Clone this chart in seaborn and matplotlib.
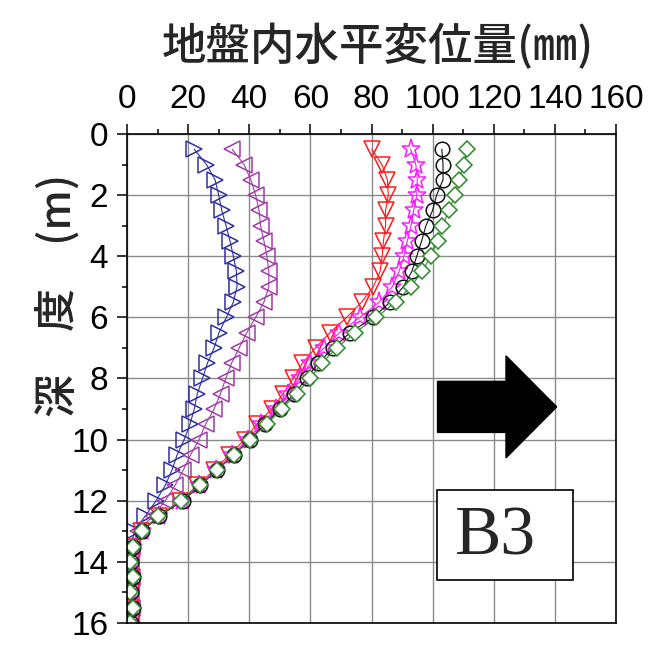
import numpy as np
import pandas as pd
import matplotlib
matplotlib.use("Agg")
import matplotlib.pyplot as plt
import matplotlib.patches as mpatches
from matplotlib.ticker import MultipleLocator
import seaborn as sns

# depth of each reading (m)
depth = [0.5, 1.0, 1.5, 2.0, 2.5, 3.0, 3.5, 4.0, 4.5, 5.0, 5.5, 6.0,
         6.5, 7.0, 7.5, 8.0, 8.5, 9.0, 9.5, 10.0, 10.5, 11.0, 11.5, 12.0,
         12.5, 13.0, 13.5, 14.0, 14.5, 15.0, 15.5, 16.0]

# horizontal displacement (mm), one list per survey
disp_blue = [22.0, 26.0, 28.8, 30.0, 31.0, 32.4, 33.7, 34.8, 35.8, 36.0, 34.8, 32.5,
             30.1, 28.5, 26.3, 24.7, 23.0, 22.0, 20.6, 18.7, 16.4, 14.7, 12.5, 9.5,
             6.0, 2.3, 1.5, 1.0, 1.6, 1.0, 1.6, 1.0]
disp_purple = [34.4, 38.3, 40.5, 42.1, 43.2, 43.7, 44.8, 45.8, 46.4, 46.4, 44.8, 42.1,
               39.2, 36.7, 34.2, 32.3, 30.6, 28.5, 25.7, 23.6, 20.8, 18.4, 15.7, 12.5,
               8.5, 3.5, 1.5, 1.2, 1.7, 1.2, 1.7, 1.2]
disp_red = [80.1, 83.4, 85.2, 85.5, 84.6, 84.6, 83.9, 83.5, 82.8, 80.6, 76.8, 71.9,
            66.4, 61.7, 57.4, 54.4, 51.1, 47.3, 42.4, 38.5, 33.5, 28.5, 23.0, 17.5,
            10.5, 4.5, 2.0, 1.5, 1.2, 1.5, 1.2, 1.5]
disp_star = [92.8, 94.5, 95.0, 94.8, 93.8, 92.9, 91.7, 90.6, 89.0, 86.8, 82.5, 76.2,
             69.5, 64.5, 60.0, 56.5, 52.8, 48.8, 44.0, 39.5, 34.5, 29.0, 23.5, 18.0,
             10.5, 4.8, 2.0, 1.3, 1.6, 1.3, 1.6, 1.3]
disp_circle = [103.0, 103.4, 103.4, 101.3, 100.0, 97.8, 96.4, 94.8, 93.2, 90.4, 86.1, 80.6,
               73.0, 67.5, 62.5, 58.8, 54.7, 50.0, 45.2, 40.2, 34.9, 29.4, 24.0, 18.3,
               10.5, 5.0, 2.0, 1.2, 1.8, 1.2, 1.8, 1.2]
disp_diamond = [111.2, 110.3, 108.6, 107.3, 105.4, 103.2, 101.6, 99.4, 96.6, 92.8, 87.9, 81.6,
                74.6, 68.6, 63.7, 59.9, 55.5, 50.6, 45.7, 40.2, 35.0, 29.5, 23.8, 17.8,
                10.3, 4.9, 2.0, 1.0, 1.8, 1.0, 1.8, 1.0]

x_ticks = [0, 20, 40, 60, 80, 100, 120, 140, 160]
y_ticks = [0, 2, 4, 6, 8, 10, 12, 14, 16]

title_text = "地盤内水平変位量(㎜)"
ylabel_text = "深　度　(m)"
box_text = "B3"

series = [
    (disp_blue, ">", "#2f2fa0", "none", 12),
    (disp_purple, "<", "#a03ca8", "none", 12),
    (disp_red, "v", "#ff1a1a", "none", 12),
    (disp_star, "*", "#ff1aff", "none", 14),
    (disp_circle, "o", "#111111", "none", 10.5),
    (disp_diamond, "D", "#2a8a2a", "white", 8.5),
]

sns.set_theme(style="white")
plt.rcParams["font.family"] = ["Noto Sans CJK JP", "DejaVu Sans"]

fig = plt.figure(figsize=(6.54, 6.49), dpi=100)
ax = fig.add_axes([0.1942, 0.0401, 0.7477, 0.7535])

for values, mk, col, face, size in series:
    sns.lineplot(
        x=values,
        y=depth,
        sort=False,
        orient="y",
        estimator=None,
        marker=mk,
        color=col,
        markerfacecolor=face,
        markeredgecolor=col,
        markeredgewidth=1.1,
        markersize=size,
        linewidth=0.8,
        ax=ax
    )

ax.set_xlim(0, 160)
ax.set_ylim(16, 0)
ax.xaxis.tick_top()
ax.set_xticks(x_ticks)
ax.set_yticks(y_ticks)
ax.xaxis.set_minor_locator(MultipleLocator(10))
ax.yaxis.set_minor_locator(MultipleLocator(1))
ax.grid(True, which="major", color="#8a8a8a", linewidth=1.0)
ax.set_axisbelow(True)

for side in ax.spines.values():
    side.set_color("black")
    side.set_linewidth(1.2)

ax.tick_params(which="major", direction="out", length=7, width=1.1,
               colors="black", labelsize=24)
ax.tick_params(which="minor", direction="out", length=3.5, width=1.1,
               colors="black")
ax.tick_params(axis="x", which="both", top=True, bottom=False, pad=7)
ax.tick_params(axis="y", which="both", left=True, right=False, pad=6.5)
for lab in ax.get_xticklabels() + ax.get_yticklabels():
    lab.set_family("Liberation Sans")

ax.set_xlabel("")
ax.set_ylabel("")

# block arrow showing the direction of movement
arrow = mpatches.FancyArrow(101.6, 8.93, 39.0, 0.0, width=1.67,
                            head_width=3.34, head_length=16.6,
                            length_includes_head=True,
                            color="black", zorder=5)
ax.add_patch(arrow)

# label box
ax.add_patch(mpatches.Rectangle((101.3, 11.65), 44.5, 2.94, facecolor="white",
                                edgecolor="black", linewidth=1.2, zorder=5))
ax.text(120.7, 13.2, box_text, ha="center", va="center", fontsize=50,
        family="Liberation Serif", zorder=6)

fig.text(0.577, 0.928, title_text, ha="center", va="center", fontsize=32,
         weight="medium")
fig.text(0.087, 0.545, ylabel_text, ha="center", va="center",
         rotation=90, fontsize=31, weight="medium")

fig.savefig("out.png", dpi=100)
plt.close(fig)
